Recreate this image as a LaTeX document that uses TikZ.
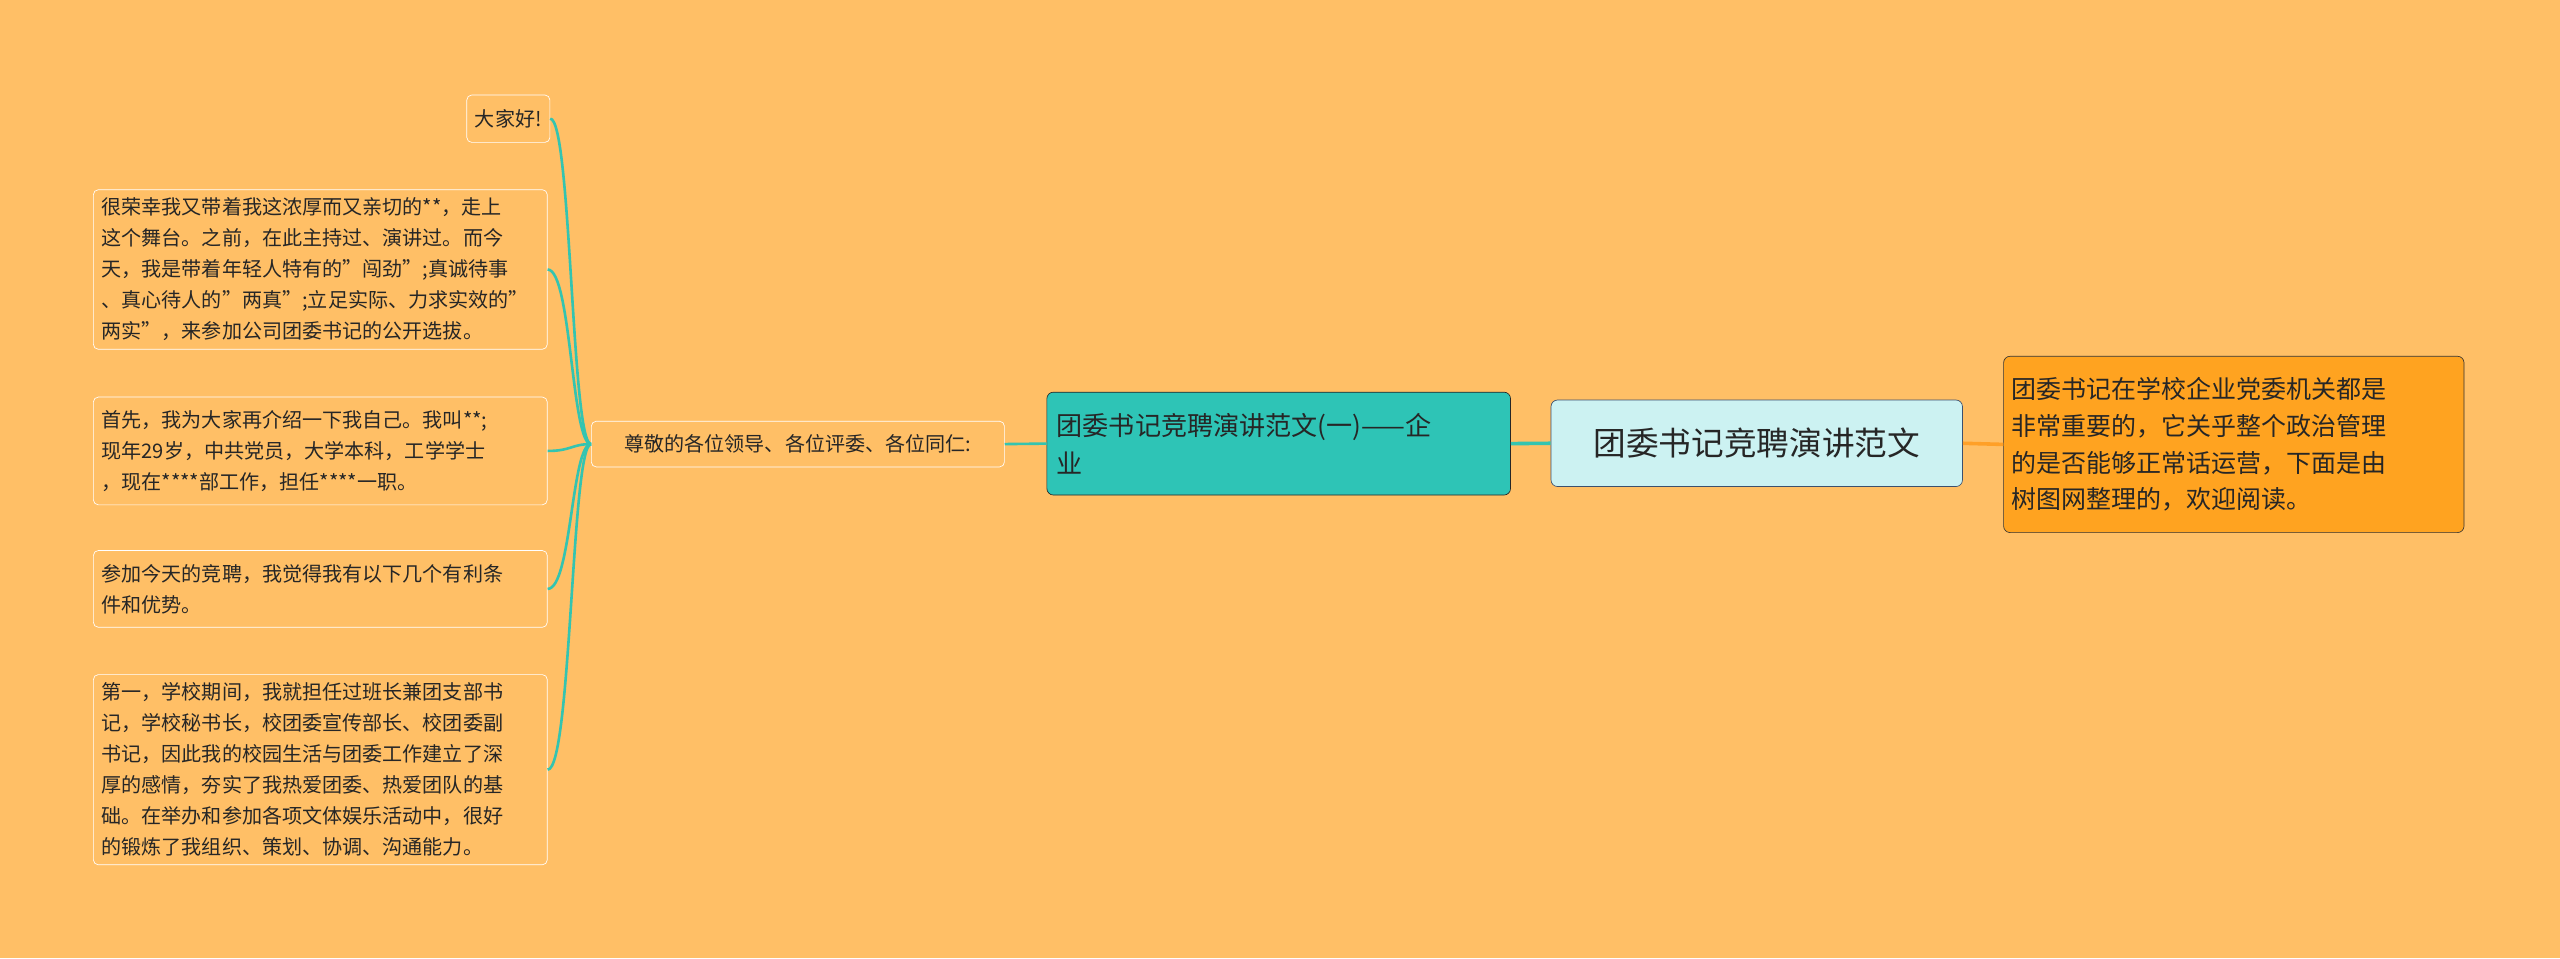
\documentclass[tikz,border=0pt]{standalone}
\usepackage{fontspec}
\setmainfont{Noto Sans CJK SC}
\XeTeXlinebreaklocale "zh"
\XeTeXlinebreakskip=0pt plus 1pt
\begin{document}
\begin{tikzpicture}[x=1pt,y=-1pt,
  leaf/.style={draw=white,rounded corners=3pt,align=left,inner sep=5pt,font=\fontsize{12.3}{19}\selectfont,text=black!85},
  conn/.style={draw={rgb,255:red,52;green,196;blue,176},line width=1.6pt},
]
\fill[fill={rgb,255:red,255;green,191;blue,102}] (0,0) rectangle (1568,587);
\useasboundingbox (0,0) rectangle (1568,587);
\node[draw={rgb,255:red,60;green,80;blue,110},fill={rgb,255:red,204;green,242;blue,242},rounded corners=4pt,minimum width=252,minimum height=53,font=\fontsize{20}{24}\selectfont,text=black!85] (root) at (1076,271.5) {团委书记竞聘演讲范文};
\node[draw=black!80,fill={rgb,255:red,255;green,163;blue,32},rounded corners=4pt,anchor=north west,text width=272,inner sep=5pt,align=left,minimum height=108,font=\fontsize{15.3}{22.5}\selectfont,text=black!85] (desc) at (1227,218) {团委书记在学校企业党委机关都是\\非常重要的，它关乎整个政治管理\\的是否能够正常话运营，下面是由\\树图网整理的，欢迎阅读。};
\node[draw=black!85,fill={rgb,255:red,46;green,196;blue,182},rounded corners=4pt,anchor=north west,text width=272,inner sep=6pt,align=left,minimum height=63,font=\fontsize{16}{23}\selectfont,text=black!85] (l1) at (641,240) {团委书记竞聘演讲范文(一)——企\\业};
\node[leaf,anchor=west,minimum height=28,minimum width=253] (l2) at (362,272) {尊敬的各位领导、各位评委、各位同仁:};
\node[leaf,anchor=north east,minimum height=29] (a) at (337,58) {大家好!};
\node[leaf,anchor=north west,text width=268,minimum height=97] (b) at (57,116) {很荣幸我又带着我这浓厚而又亲切的**，走上\\这个舞台。之前，在此主持过、演讲过。而今\\天，我是带着年轻人特有的"闯劲";真诚待事\\、真心待人的"两真";立足实际、力求实效的"\\两实"，来参加公司团委书记的公开选拔。};
\node[leaf,anchor=north west,text width=268,minimum height=66] (c) at (57,243) {首先，我为大家再介绍一下我自己。我叫**;\\现年29岁，中共党员，大学本科，工学学士\\，现在****部工作，担任****一职。};
\node[leaf,anchor=north west,text width=268,minimum height=47] (d) at (57,337) {参加今天的竞聘，我觉得我有以下几个有利条\\件和优势。};
\node[leaf,anchor=north west,text width=268,minimum height=116] (e) at (57,413) {第一，学校期间，我就担任过班长兼团支部书\\记，学校秘书长，校团委宣传部长、校团委副\\书记，因此我的校园生活与团委工作建立了深\\厚的感情，夯实了我热爱团委、热爱团队的基\\础。在举办和参加各项文体娱乐活动中，很好\\的锻炼了我组织、策划、协调、沟通能力。};
\draw[line width=2.2pt,draw={rgb,255:red,255;green,160;blue,40}] (root.east) -- (desc.west);
\draw[conn,line width=2.2pt] (root.west) -- (l1.east);
\draw[conn] (l1.west) -- (l2.east);
\foreach \n in {a,b,c,d,e}
  \draw[conn] (l2.west) .. controls (350,272) and (350,0|-\n.east) .. (\n.east);
\end{tikzpicture}
\end{document}
